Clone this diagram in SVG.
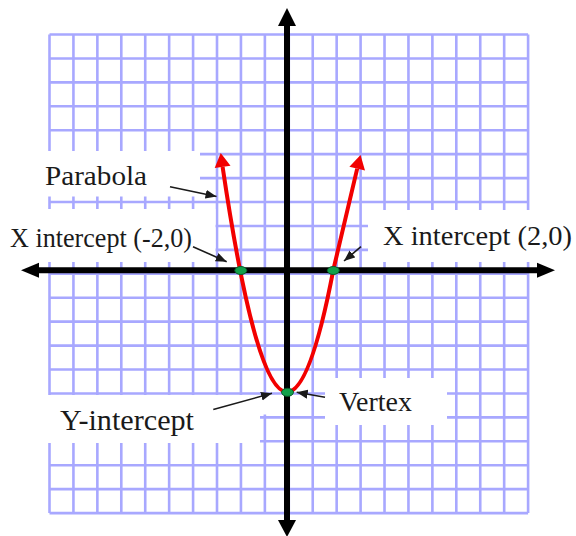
<svg xmlns="http://www.w3.org/2000/svg" width="576" height="536" viewBox="0 0 576 536">
<defs>
<style>
.grid{fill:none;stroke:#a8a8ff;stroke-width:2.6}
.mask{fill:#ffffff}
.axis{stroke:#000;stroke-width:6;fill:none}
.axhead{fill:#000}
.curve{fill:none;stroke:#f20000;stroke-width:4;stroke-linejoin:round}
.curvehead{fill:#f20000}
.dot{fill:#12a04a;stroke:#0b5a2a;stroke-width:1}
.lbl{font-family:"Liberation Serif","Times New Roman",serif;font-size:28px;fill:#1a1a1a}
.ptr{stroke:#1a1a1a;stroke-width:1.6;fill:none}
</style>
<marker id="ah" markerUnits="userSpaceOnUse" markerWidth="12" markerHeight="10" refX="11" refY="4.5" orient="auto">
<path d="M0,0 L11,4.5 L0,9 z" fill="#1a1a1a"/>
</marker>
</defs>
<rect width="576" height="536" fill="#ffffff"/>
<g id="grid">
<path class="grid" d="M49.5,34.5V513.1M73.43,34.5V513.1M97.36,34.5V513.1M121.29,34.5V513.1M145.22,34.5V513.1M169.15,34.5V513.1M193.08,34.5V513.1M217.01,34.5V513.1M240.94,34.5V513.1M264.87,34.5V513.1M288.8,34.5V513.1M312.73,34.5V513.1M336.66,34.5V513.1M360.59,34.5V513.1M384.52,34.5V513.1M408.45,34.5V513.1M432.38,34.5V513.1M456.31,34.5V513.1M480.24,34.5V513.1M504.17,34.5V513.1M528.1,34.5V513.1
M49.5,34.5H528.1M49.5,58.43H528.1M49.5,82.36H528.1M49.5,106.29H528.1M49.5,130.22H528.1M49.5,154.15H528.1M49.5,178.08H528.1M49.5,202.01H528.1M49.5,225.94H528.1M49.5,249.87H528.1M49.5,273.8H528.1M49.5,297.73H528.1M49.5,321.66H528.1M49.5,345.59H528.1M49.5,369.52H528.1M49.5,393.45H528.1M49.5,417.38H528.1M49.5,441.31H528.1M49.5,465.24H528.1M49.5,489.17H528.1M49.5,513.1H528.1"/>
</g>
<g id="label-backgrounds">
<rect class="mask" x="38" y="151" width="162" height="45.5"/>
<rect class="mask" x="0" y="209" width="215.5" height="53"/>
<rect class="mask" x="368" y="210" width="208" height="52"/>
<rect class="mask" x="38" y="395" width="222" height="48"/>
<rect class="mask" x="258" y="395" width="27" height="19.5"/>
<rect class="mask" x="325" y="378" width="122" height="47"/>
</g>
<g id="axes">
<path class="axis" d="M36,270.3H540M287,24V522"/>
<polygon class="axhead" points="21,270.3 39,262.8 39,277.8"/>
<polygon class="axhead" points="555,270.3 537,262.8 537,277.8"/>
<polygon class="axhead" points="287,8 296,26 278,26"/>
<polygon class="axhead" points="287,537 296,520 278,520"/>
</g>
<g id="parabola">
<path class="curve" d="M222.6,166.9 Q256,392 287,392 Q310,392 333.3,270 L357.2,168.6"/>
<polygon class="curvehead" points="220.7,153 230.5,165.8 214.7,168"/>
<polygon class="curvehead" points="360.5,155 365,170.5 349.4,166.7"/>
</g>
<g id="points">
<ellipse id="x-int-left" class="dot" cx="240.8" cy="270.5" rx="6" ry="4"/>
<ellipse id="x-int-right" class="dot" cx="333.3" cy="270.5" rx="6" ry="4"/>
<ellipse id="vertex-pt" class="dot" cx="287.5" cy="392.3" rx="6" ry="4"/>
</g>
<g id="connectors">
<line class="ptr" x1="170" y1="186.7" x2="216.5" y2="196.5" marker-end="url(#ah)"/>
<line class="ptr" x1="193" y1="246.7" x2="226.7" y2="261.7" marker-end="url(#ah)"/>
<line class="ptr" x1="361" y1="246.7" x2="344" y2="261" marker-end="url(#ah)"/>
<line class="ptr" x1="213.3" y1="409.5" x2="272" y2="393.3" marker-end="url(#ah)"/>
<line class="ptr" x1="325" y1="397.3" x2="296.7" y2="392.3" marker-end="url(#ah)"/>
</g>
<g id="label-parabola"><text class="lbl" x="45" y="185" textLength="102" lengthAdjust="spacingAndGlyphs">Parabola</text></g>
<g id="label-xint-left"><text class="lbl" x="10" y="246.5" textLength="182" lengthAdjust="spacingAndGlyphs">X intercept (-2,0)</text></g>
<g id="label-xint-right"><text class="lbl" x="383" y="245" textLength="189" lengthAdjust="spacingAndGlyphs">X intercept (2,0)</text></g>
<g id="label-yint"><text class="lbl" x="60" y="430" style="font-size:30px" textLength="134" lengthAdjust="spacingAndGlyphs">Y-intercept</text></g>
<g id="label-vertex"><text class="lbl" x="339" y="411" textLength="73" lengthAdjust="spacingAndGlyphs">Vertex</text></g>
</svg>
